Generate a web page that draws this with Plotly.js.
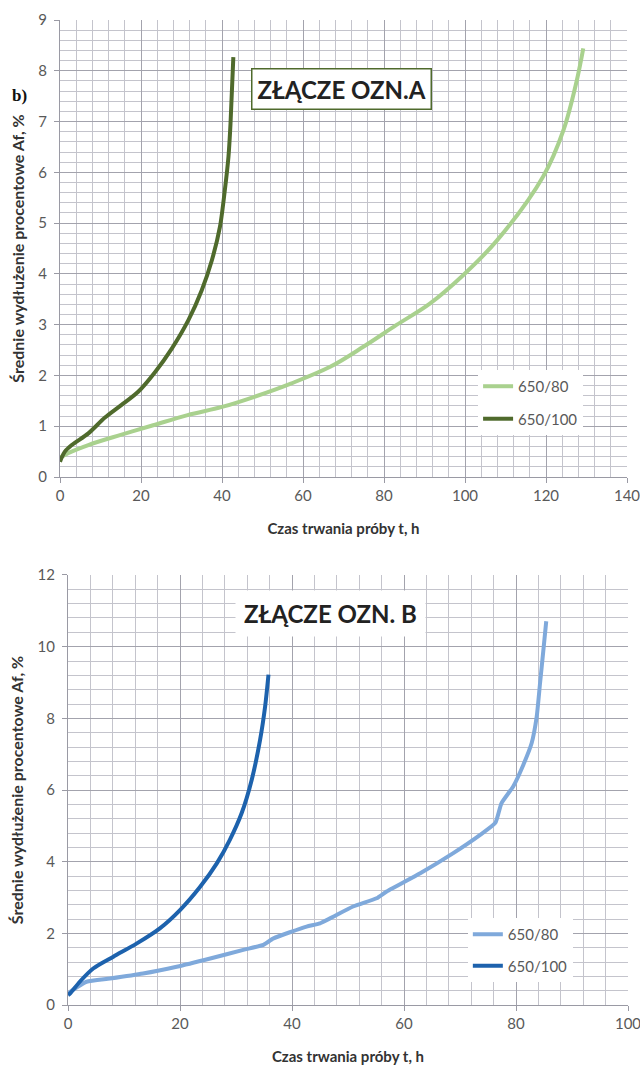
<!DOCTYPE html>
<html>
<head>
<meta charset="utf-8">
<script src="https://cdn.plot.ly/plotly-3.0.1.min.js"></script>
<style>html,body{margin:0;padding:0;background:#fff;}#chart{width:640px;height:1065px;}</style>
</head>
<body>
<div id="chart"></div>
<script>
// Chart A (top)
const a80_t = [0, 2, 7, 15, 23, 31.5, 40, 48, 57, 66.7, 75, 83, 91.4, 99.6, 107.8, 119.3, 124.3, 127.6, 129.2];
const a80_af = [0.38, 0.47, 0.63, 0.83, 1.02, 1.22, 1.38, 1.58, 1.84, 2.17, 2.57, 2.99, 3.42, 3.98, 4.65, 5.92, 6.83, 7.81, 8.44];
const a100_t = [0, 0.4, 1.2, 2.9, 7.0, 11.1, 15.2, 19.3, 23.5, 27.6, 31.7, 35.0, 37.5, 39.5, 40.7, 41.6, 42.1, 42.8];
const a100_af = [0.3, 0.38, 0.5, 0.63, 0.86, 1.17, 1.42, 1.68, 2.07, 2.53, 3.09, 3.68, 4.27, 4.93, 5.65, 6.31, 6.96, 8.27];
// Chart B (bottom)
const b80_t = [0, 0.4, 3.3, 7.5, 13.4, 19.4, 25.4, 31.3, 34.9, 36.7, 42.6, 45, 50.9, 55.1, 56.9, 62.9, 68.8, 73.6, 76.3, 77.4, 79.5, 81.3, 82.8, 83.7, 84.3, 84.9, 85.4];
const b80_af = [0.3, 0.37, 0.65, 0.74, 0.88, 1.07, 1.30, 1.54, 1.68, 1.86, 2.19, 2.28, 2.75, 2.98, 3.17, 3.68, 4.24, 4.75, 5.08, 5.63, 6.10, 6.70, 7.31, 8.05, 8.99, 9.92, 10.71];
const b100_t = [0, 0.4, 2.1, 4.5, 8.1, 12.3, 16.4, 20, 23.6, 26.6, 28.9, 31.0, 32.8, 34.3, 35.2, 35.8];
const b100_af = [0.28, 0.33, 0.65, 1.02, 1.35, 1.72, 2.14, 2.65, 3.30, 3.96, 4.61, 5.35, 6.28, 7.40, 8.33, 9.22];

const seriesNames = ['650/80', '650/100'];
const titleA = 'ZŁĄCZE OZN.A';
const titleB = 'ZŁĄCZE OZN. B';
const xTitle = 'Czas trwania próby t, h';
const yTitle = 'Średnie wydłużenie procentowe Af, %';

const cLG = '#a9d18e', cDG = '#4f6a2c', cLB = '#7fa9db', cDB = '#1d62ad';
const FONT = 'Lato, "Open Sans", sans-serif';

const traces = [
  {x: a80_t, y: a80_af, name: seriesNames[0], mode: 'lines', line: {color: cLG, width: 4, shape: 'spline', smoothing: 1}, xaxis: 'x', yaxis: 'y', legend: 'legend', legendgroup: 'a1'},
  {x: a100_t, y: a100_af, name: seriesNames[1], mode: 'lines', line: {color: cDG, width: 4, shape: 'spline', smoothing: 0.8}, xaxis: 'x', yaxis: 'y', legend: 'legend', legendgroup: 'a2'},
  {x: b80_t, y: b80_af, name: seriesNames[0], mode: 'lines', line: {color: cLB, width: 4, shape: 'spline', smoothing: 0.5}, xaxis: 'x2', yaxis: 'y2', legend: 'legend2', legendgroup: 'b1'},
  {x: b100_t, y: b100_af, name: seriesNames[1], mode: 'lines', line: {color: cDB, width: 4, shape: 'spline', smoothing: 0.8}, xaxis: 'x2', yaxis: 'y2', legend: 'legend2', legendgroup: 'b2'}
];

const gridMajor = '#a3a3ad', gridMinor = '#c4c4cc';
function xa(dom, range, anchor) {
  return {domain: dom, range: range, anchor: anchor, dtick: 20, tick0: 0,
    showgrid: true, gridcolor: gridMajor, gridwidth: 1,
    minor: {dtick: 4, showgrid: true, gridcolor: gridMinor, gridwidth: 1},
    showline: true, linecolor: '#9a9aa4', linewidth: 1,
    ticks: 'outside', ticklen: 5, tickcolor: '#9a9aa4',
    tickfont: {family: FONT, size: 15, color: '#595959'}, ticklabeloverflow: 'allow',
    zeroline: false, fixedrange: true,
    title: {text: xTitle, font: {family: FONT, size: 15, color: '#333', weight: 'bold'}, standoff: 20}};
}
function ya(dom, range, anchor, dt, mdt) {
  return {domain: dom, range: range, anchor: anchor, dtick: dt, tick0: 0,
    showgrid: true, gridcolor: gridMajor, gridwidth: 1,
    minor: {dtick: mdt, showgrid: true, gridcolor: gridMinor, gridwidth: 1},
    showline: true, linecolor: '#9a9aa4', linewidth: 1,
    ticks: 'outside', ticklen: 5, tickcolor: '#9a9aa4',
    tickfont: {family: FONT, size: 15, color: '#595959'}, ticklabelstandoff: 4, ticklabeloverflow: 'allow',
    zeroline: false, fixedrange: true,
    title: {text: yTitle, font: {family: FONT, size: 16, color: '#333', weight: 'bold'}, standoff: 9}};
}

const layout = {
  width: 640, height: 1065,
  margin: {l: 0, r: 0, t: 0, b: 0},
  paper_bgcolor: '#fff', plot_bgcolor: '#fff',
  font: {family: FONT},
  showlegend: true,
  xaxis: xa([0.09375, 0.9797], [0, 140], 'y'),
  yaxis: ya([0.5521, 0.9812], [0, 9], 'x', 1, 0.2),
  xaxis2: xa([0.10625, 0.98125], [0, 100], 'y2'),
  yaxis2: ya([0.0563, 0.4601], [0, 12], 'x2', 2, 0.4),
  legend: {x: 0.747, y: 0.6526, xanchor: 'left', yanchor: 'top', bgcolor: '#fff', borderwidth: 0,
    font: {family: FONT, size: 15, color: '#595959'}, tracegroupgap: 10, itemwidth: 30},
  legend2: {x: 0.731, y: 0.138, xanchor: 'left', yanchor: 'top', bgcolor: '#fff', borderwidth: 0,
    font: {family: FONT, size: 15, color: '#595959'}, tracegroupgap: 9, itemwidth: 30},
  annotations: [
    {text: titleA, xref: 'paper', yref: 'paper', x: 0.534, y: 0.9164, xanchor: 'center', yanchor: 'middle', showarrow: false,
     font: {family: FONT, size: 24, color: '#222', weight: 'bold'}, bgcolor: '#fff', bordercolor: cDG, borderwidth: 1.5, borderpad: 5},
    {text: titleB, xref: 'paper', yref: 'paper', x: 0.516, y: 0.4235, xanchor: 'center', yanchor: 'middle', showarrow: false,
     font: {family: FONT, size: 24, color: '#222', weight: 'bold'}, bgcolor: '#fff', borderpad: 8},
    {text: 'b)', xref: 'paper', yref: 'paper', x: 10/640, y: 1 - 96/1065, xanchor: 'left', yanchor: 'middle', showarrow: false,
     font: {family: '"Liberation Serif", "DejaVu Serif", serif', size: 17, color: '#111', weight: 'bold'}}
  ]
};

Plotly.newPlot('chart', traces, layout, {displayModeBar: false, staticPlot: true});
</script>
</body>
</html>
